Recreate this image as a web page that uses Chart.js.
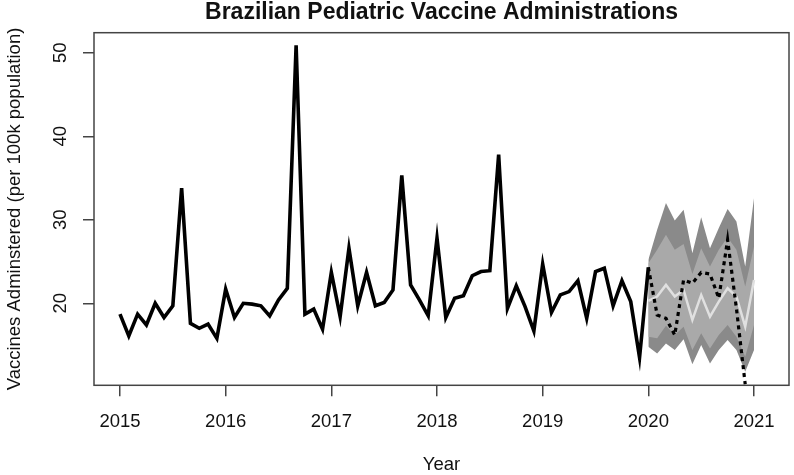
<!DOCTYPE html>
<html><head><meta charset="utf-8">
<script src="https://cdn.jsdelivr.net/npm/chart.js@4/dist/chart.umd.min.js"></script>
<style>html,body{margin:0;padding:0;background:#fff;}canvas{display:block;}</style>
</head><body>
<canvas id="c" width="794" height="475"></canvas>
<script>
const startYear = 2015;
const monthsPerYear = 12;
const forecastStartIndex = 60;

// Monthly administrations, Jan 2015 .. Jan 2020
const history = [
  18.7, 16.1, 18.7, 17.4, 20.0, 18.3, 19.7, 33.8, 17.6, 17.0, 17.5, 15.8,
  21.7, 18.3, 20.0, 19.9, 19.7, 18.5, 20.4, 21.8, 50.9, 18.7, 19.3, 16.9,
  23.7, 18.4, 26.6, 19.7, 23.7, 19.7, 20.1, 21.6, 35.3, 22.2, 20.4, 18.5,
  27.8, 18.3, 20.6, 20.9, 23.3, 23.8, 23.9, 37.8, 19.4, 22.1, 19.6, 16.7,
  24.7, 18.9, 21.0, 21.4, 22.7, 18.2, 23.8, 24.2, 19.7, 22.7, 20.2, 13.5,
  24.3
];
// Observed 2020 values (dotted), Jan 2020 .. Dec 2020
const actual2020 = [24.3, 18.6, 18.2, 16.2, 22.8, 22.4, 23.7, 23.5, 20.6, 27.6, 19.4, 10.3];
// Forecast, Jan 2020 .. Jan 2021
const forecastMean = [20.3, 20.8, 22.2, 20.8, 21.6, 18.0, 21.0, 18.4, 20.2, 21.8, 20.8, 17.2, 22.8];
const hi95 = [25.2, 28.8, 32.0, 29.9, 31.2, 26.0, 30.3, 26.6, 29.0, 31.3, 29.8, 24.4, 32.6];
const hi80 = [24.8, 26.4, 28.2, 26.4, 27.1, 23.5, 26.6, 24.4, 26.4, 27.9, 26.4, 22.0, 26.8];
const lo80 = [16.0, 15.8, 17.3, 16.2, 17.2, 14.4, 16.4, 14.6, 16.2, 17.4, 16.0, 13.6, 17.4];
const lo95 = [14.8, 14.0, 15.2, 14.4, 15.7, 12.7, 15.0, 12.8, 14.4, 15.6, 14.4, 11.8, 14.4];

const xTicks = [2015, 2016, 2017, 2018, 2019, 2020, 2021];
const yTicks = [20, 30, 40, 50];

function series(values, offset) {
  return values.map((v, k) => ({ x: startYear + (offset + k) / monthsPerYear, y: v }));
}

const FONT = '"Liberation Sans", Arial, Helvetica, sans-serif';

const boxPlugin = {
  id: 'rbox',
  afterDraw(chart) {
    const { ctx, chartArea: a } = chart;
    ctx.save();
    ctx.strokeStyle = '#444';
    ctx.lineWidth = 1.5;
    ctx.strokeRect(a.left, a.top, a.right - a.left, a.bottom - a.top);
    const ys = chart.scales.y;
    ctx.font = '18.5px ' + FONT;
    ctx.fillStyle = '#111';
    ctx.textAlign = 'center';
    ctx.textBaseline = 'alphabetic';
    ys.ticks.forEach(t => {
      const py = ys.getPixelForValue(t.value);
      ctx.save();
      ctx.translate(66, py);
      ctx.rotate(-Math.PI / 2);
      ctx.fillText(String(t.value), 0, 0);
      ctx.restore();
    });
    ctx.restore();
  }
};

const lineBase = { pointRadius: 0, pointHoverRadius: 0, tension: 0 };

new Chart(document.getElementById('c'), {
  type: 'line',
  data: {
    datasets: [
      Object.assign({ label: 'Observed', data: series(history, 0), borderColor: '#000', borderWidth: 3.6, fill: false, borderJoinStyle: 'miter' }, lineBase),
      Object.assign({ label: 'Observed 2020', data: series(actual2020, forecastStartIndex), borderColor: '#000', borderWidth: 3.2, borderDash: [4, 4], fill: false }, lineBase),
      Object.assign({ label: 'Forecast', data: series(forecastMean, forecastStartIndex), borderColor: '#e0e0e0', borderWidth: 2.5, fill: false }, lineBase),
      Object.assign({ label: 'Hi 80', data: series(hi80, forecastStartIndex), borderWidth: 0, borderColor: 'rgba(0,0,0,0)', backgroundColor: '#a9a9a9', fill: '+1' }, lineBase),
      Object.assign({ label: 'Lo 80', data: series(lo80, forecastStartIndex), borderWidth: 0, borderColor: 'rgba(0,0,0,0)', fill: false }, lineBase),
      Object.assign({ label: 'Hi 95', data: series(hi95, forecastStartIndex), borderWidth: 0, borderColor: 'rgba(0,0,0,0)', backgroundColor: '#8a8a8a', fill: '+1' }, lineBase),
      Object.assign({ label: 'Lo 95', data: series(lo95, forecastStartIndex), borderWidth: 0, borderColor: 'rgba(0,0,0,0)', fill: false }, lineBase)
    ]
  },
  options: {
    responsive: false,
    animation: false,
    devicePixelRatio: 1,
    layout: { padding: { left: 0, right: 5, top: 0, bottom: 0 } },
    plugins: {
      legend: { display: false },
      tooltip: { enabled: false },
      title: {
        display: true,
        text: 'Brazilian Pediatric Vaccine Administrations',
        fullSize: false,
        color: '#111',
        font: { family: FONT, size: 23, weight: 'bold', lineHeight: 1 },
        padding: { top: 1, bottom: 8.7 }
      }
    },
    scales: {
      x: {
        type: 'linear',
        min: 2014.754,
        max: 2021.331,
        afterBuildTicks: s => { s.ticks = xTicks.map(v => ({ value: v })); },
        afterFit: s => { s.height = 89.7; },
        border: { display: false },
        grid: { drawOnChartArea: false, drawTicks: true, tickLength: 11, color: '#444', lineWidth: 1.5 },
        ticks: { callback: v => String(v), color: '#111', font: { family: FONT, size: 18.5 }, padding: 15, maxRotation: 0, autoSkip: false },
        title: { display: true, text: 'Year', color: '#111', font: { family: FONT, size: 18.5, lineHeight: 1 }, padding: { top: 0, bottom: 1 } }
      },
      y: {
        type: 'linear',
        min: 10.18,
        max: 52.4,
        afterBuildTicks: s => { s.ticks = yTicks.map(v => ({ value: v })); },
        afterFit: s => { s.width = 94; },
        border: { display: false },
        grid: { drawOnChartArea: false, drawTicks: true, tickLength: 11, color: '#444', lineWidth: 1.5 },
        ticks: { display: false },
        title: { display: true, text: 'Vaccines Adminstered (per 100k population)', color: '#111', font: { family: FONT, size: 18.5, lineHeight: 1 }, padding: { top: 6, bottom: 0 } }
      }
    }
  },
  plugins: [boxPlugin]
});
</script>
</body></html>
